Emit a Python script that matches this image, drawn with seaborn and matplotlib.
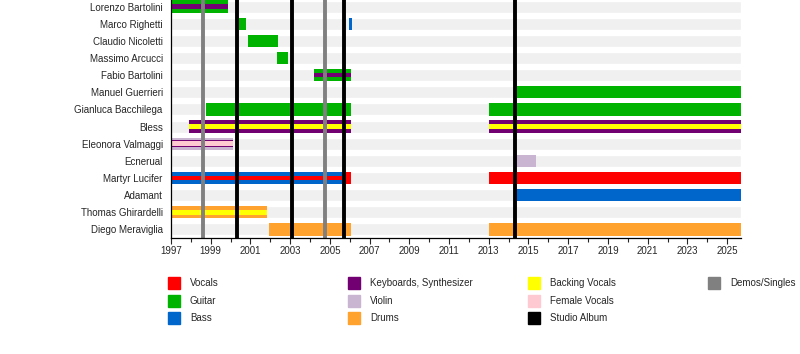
import matplotlib
matplotlib.use("Agg")
import matplotlib.pyplot as plt
from matplotlib.patches import Rectangle
import seaborn as sns

# Band members (top to bottom)
members = ["Lorenzo Bartolini", "Marco Righetti", "Claudio Nicoletti", "Massimo Arcucci",
           "Fabio Bartolini", "Manuel Guerrieri", "Gianluca Bacchilega", "Bless",
           "Eleonora Valmaggi", "Ecnerual", "Martyr Lucifer", "Adamant",
           "Thomas Ghirardelli", "Diego Meraviglia"]

roles = ["Vocals", "Guitar", "Bass", "Keyboards, Synthesizer", "Violin", "Drums",
         "Backing Vocals", "Female Vocals", "Studio Album", "Demos/Singles"]
role_colors = ["#ff0000", "#00b300", "#0066cc", "#730073", "#c9b4d2", "#ffa22e",
               "#ffff00", "#ffc9d2", "#000000", "#808080"]
palette = dict(zip(roles, role_colors))

# main bars: (member, role, start, end)
main_spans = [
    ("Lorenzo Bartolini", "Guitar", 1997.0, 1999.85),
    ("Marco Righetti", "Guitar", 2000.4, 2000.8),
    ("Marco Righetti", "Bass", 2005.95, 2006.1),
    ("Claudio Nicoletti", "Guitar", 2000.9, 2002.4),
    ("Massimo Arcucci", "Guitar", 2002.35, 2002.9),
    ("Fabio Bartolini", "Guitar", 2004.2, 2006.05),
    ("Manuel Guerrieri", "Guitar", 2014.3, 2025.7),
    ("Gianluca Bacchilega", "Guitar", 1998.75, 2006.05),
    ("Gianluca Bacchilega", "Guitar", 2013.0, 2025.7),
    ("Bless", "Keyboards, Synthesizer", 1997.9, 2006.05),
    ("Bless", "Keyboards, Synthesizer", 2013.0, 2025.7),
    ("Eleonora Valmaggi", "Violin", 1997.0, 2000.1),
    ("Ecnerual", "Violin", 2014.3, 2015.4),
    ("Martyr Lucifer", "Vocals", 1997.0, 2006.05),
    ("Martyr Lucifer", "Bass", 1997.0, 2005.8),
    ("Martyr Lucifer", "Vocals", 2013.0, 2025.7),
    ("Adamant", "Bass", 2014.3, 2025.7),
    ("Thomas Ghirardelli", "Drums", 1997.0, 2001.85),
    ("Diego Meraviglia", "Drums", 2001.95, 2006.05),
    ("Diego Meraviglia", "Drums", 2013.0, 2025.7),
]

# middle stripe (only Eleonora)
mid_spans = [
    ("Eleonora Valmaggi", "Keyboards, Synthesizer", 1997.0, 2000.1),
]

# thin inner stripes for secondary roles
inner_spans = [
    ("Lorenzo Bartolini", "Keyboards, Synthesizer", 1997.0, 1999.85),
    ("Fabio Bartolini", "Keyboards, Synthesizer", 2004.2, 2006.05),
    ("Bless", "Backing Vocals", 1997.9, 2006.05),
    ("Bless", "Backing Vocals", 2013.0, 2025.7),
    ("Eleonora Valmaggi", "Female Vocals", 1997.0, 2000.1),
    ("Martyr Lucifer", "Vocals", 1997.0, 2005.8),
    ("Thomas Ghirardelli", "Backing Vocals", 1997.0, 2001.85),
]

studio_albums = [2000.3, 2003.1, 2005.7, 2014.3]
demos = [1998.6, 2004.75]

x_start, x_end = 1997.0, 2025.7

sns.set_style("white")
plt.rcParams["font.family"] = ["Liberation Sans", "DejaVu Sans"]
plt.rcParams["font.size"] = 7

fig = plt.figure(figsize=(8, 3.54), dpi=100)
W, H = 800, 354
ax = fig.add_axes([171 / W, 1 - 238 / H, 570 / W, 240 / H])

row = {m: i for i, m in enumerate(members)}

# light background stripes
ax.barh(range(len(members)), x_end - x_start, left=x_start, height=0.7,
        color="#f0f0f0", zorder=1)


def draw(spans, h, z):
    for m, r, s, e in spans:
        ax.barh(row[m], e - s, left=s, height=h, color=palette[r], zorder=z, linewidth=0)


draw(main_spans, 0.72, 2)
draw(mid_spans, 0.4, 3)
draw(inner_spans, 0.26, 4)

for x in demos:
    ax.axvline(x, color=palette["Demos/Singles"], lw=2.8, zorder=5)
for x in studio_albums:
    ax.axvline(x, color=palette["Studio Album"], lw=2.8, zorder=5)

ax.set_xlim(x_start, x_end)
ax.set_ylim(len(members) - 0.5, -0.5)
ax.set_yticks(range(len(members)))
ax.set_yticklabels(members)
ax.set_xticks(range(1997, 2026, 2))
ax.set_xticks(range(1998, 2026, 2), minor=True)
ax.tick_params(axis="x", which="major", length=4, width=0.8, direction="out",
               bottom=True, pad=2, labelsize=7)
ax.tick_params(axis="x", which="minor", length=3, width=0.8, direction="out", bottom=True)
ax.tick_params(axis="y", length=0, pad=6, labelsize=7)
for side in ["top", "right"]:
    ax.spines[side].set_visible(False)
for side in ["left", "bottom"]:
    ax.spines[side].set_color("black")
    ax.spines[side].set_linewidth(0.9)
    ax.spines[side].set_zorder(6)

# legend, 4 columns filled top to bottom
for i, (name, col) in enumerate(zip(roles, role_colors)):
    c, r = divmod(i, 3)
    x0 = 168 + 180 * c
    yc = 283 + 17.5 * r
    fig.patches.append(Rectangle((x0 / W, 1 - (yc + 6) / H), 12 / W, 12 / H,
                                 color=col, transform=fig.transFigure, figure=fig))
    fig.text((x0 + 22) / W, 1 - yc / H, name, va="center", ha="left", fontsize=7)

fig.savefig("out.png", dpi=100)
